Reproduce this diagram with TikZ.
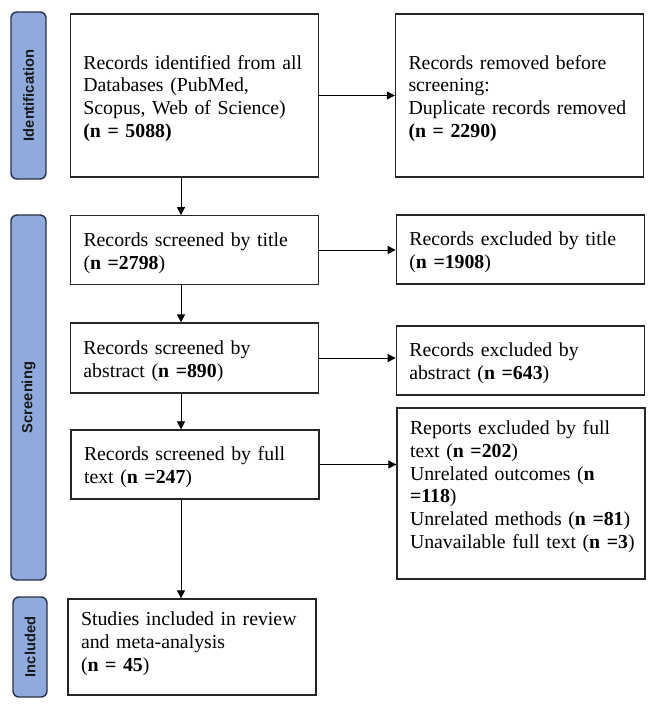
\documentclass[tikz,border=0pt]{standalone}
\usepackage{fontspec}
\setmainfont{Liberation Serif}
\newfontfamily\barfont{Liberation Sans}
\usetikzlibrary{arrows.meta,calc}
\definecolor{barfill}{HTML}{8FAADC}
\definecolor{barline}{HTML}{26324A}
\newcommand{\tstrut}{\rule{0pt}{19.7bp}}
\begin{document}
\begin{tikzpicture}[x=1bp,y=-1bp,
  boxnode/.style={draw=black!85, line width=1.3bp, inner xsep=13bp, inner ysep=0pt,
    align=left, text width=222bp, minimum width=248bp,
    font=\fontsize{19.8bp}{22.8bp}\selectfont, anchor=center},
  phase/.style={draw=barline, fill=barfill, line width=1.4bp, rounded corners=6bp,
    rotate=90, inner sep=0pt, text=black!90,
    font=\barfont\bfseries\fontsize{14.7bp}{17bp}\selectfont},
  arr/.style={-{Triangle[length=8bp,width=8bp]}, line width=1bp}]

\useasboundingbox (0,0) rectangle (669,708);

% phase bars
\node[phase, minimum width=167bp, minimum height=35bp] (P1) at (28.5,95.5) {Identification};
\node[phase, minimum width=365bp, minimum height=35bp] (P2) at (28.5,397.5) {Screening};
\node[phase, minimum width=100bp, minimum height=34bp] (P3) at (30,647) {Included};

% boxes
\node[boxnode, minimum height=163bp] (B1) at (194.4,95.5)
  {\tstrut Records identified from all\\Databases (PubMed,\\Scopus, Web of Science)\\\textbf{(n = 5088)}};
\node[boxnode, minimum height=163bp] (B2) at (519.5,95.5)
  {\tstrut Records removed before\\screening:\\Duplicate records removed\\\textbf{(n = 2290)}};
\node[boxnode, minimum height=68.5bp] (B3) at (194.5,250)
  {\tstrut Records screened by title\\(\textbf{n =2798})};
\node[boxnode, minimum height=69bp] (B4) at (520.3,249.5)
  {\tstrut Records excluded by title\\(\textbf{n =1908})};
\node[boxnode, minimum height=70bp] (B5) at (194.4,358)
  {\tstrut Records screened by\\abstract (\textbf{n =890})};
\node[boxnode, minimum height=69bp] (B6) at (520.3,360.5)
  {\tstrut Records excluded by\\abstract (\textbf{n =643})};
\node[boxnode, minimum height=69bp] (B7) at (195,464.5)
  {\tstrut Records screened by full\\text (\textbf{n =247})};
\node[boxnode, minimum height=171bp] (B8) at (521,493.5)
  {\mbox{Reports excluded by full}\\\mbox{text (\textbf{n =202})}\\\mbox{Unrelated outcomes (\textbf{n}}\\\textbf{=118})\\\mbox{Unrelated methods (\textbf{n =81})}\\\mbox{Unavailable full text (\textbf{n =3})}\rule[-18bp]{0pt}{0pt}};
\node[boxnode, minimum height=96bp] (B9) at (192,647)
  {Studies included in review\\and meta-analysis\\(\textbf{n = 45})\rule[-10.3bp]{0pt}{0pt}};

% connectors
\coordinate (col) at (181,0);
\draw[arr] (B1.east) -- (B1.east -| B2.west);
\draw[arr] (B1.south -| col) -- (B3.north -| col);
\draw[arr] (B3.east) -- (B3.east -| B4.west);
\draw[arr] (B3.south -| col) -- (B5.north -| col);
\draw[arr] (B5.east) -- (B5.east -| B6.west);
\draw[arr] (B5.south -| col) -- (B7.north -| col);
\draw[arr] (B7.east) -- (B7.east -| B8.west);
\draw[arr] (B7.south -| col) -- (B9.north -| col);
\end{tikzpicture}
\end{document}
